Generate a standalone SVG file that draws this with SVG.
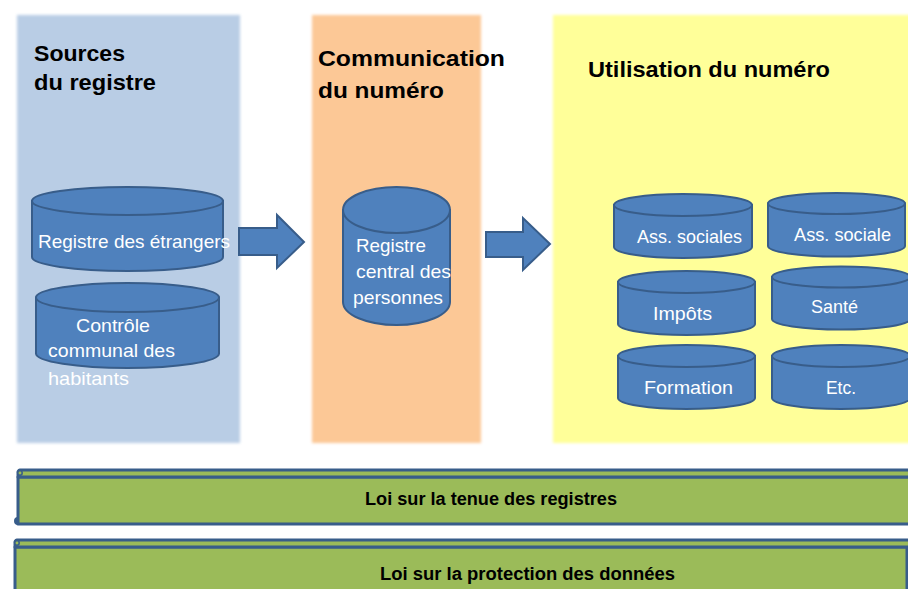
<svg xmlns="http://www.w3.org/2000/svg" width="908" height="589" viewBox="0 0 908 589">
<style>
.panel{filter:url(#soft)}
.title{font-family:"Liberation Sans",Arial,sans-serif;font-weight:bold;font-size:22.5px;fill:#000}
.cyl{fill:#4f81bd;stroke:#385d8a;stroke-width:2}
.lbl{font-family:"Liberation Sans",Arial,sans-serif;font-size:19px;fill:#fff}
.arrow{fill:#4f81bd;stroke:#385d8a;stroke-width:2;stroke-linejoin:miter}
.banner{fill:#9bbb59;stroke:#385d8a;stroke-width:3;stroke-linejoin:round}
.law{font-family:"Liberation Sans",Arial,sans-serif;font-weight:bold;font-size:18px;fill:#000}
</style>
<defs>
<filter id="soft" x="-5%" y="-5%" width="110%" height="110%"><feGaussianBlur stdDeviation="1.5"/></filter>
</defs>
<rect width="908" height="589" fill="#fff"/>

<g id="panel-sources">
<rect class="panel" x="17" y="15" width="223" height="428" fill="#b9cde5"/>
<text class="title" x="34" y="61" textLength="91" lengthAdjust="spacingAndGlyphs">Sources</text>
<text class="title" x="34" y="90" textLength="122" lengthAdjust="spacingAndGlyphs">du registre</text>
</g>
<g id="panel-communication">
<rect class="panel" x="312" y="15" width="169" height="428" fill="#fcc896"/>
<text class="title" x="318" y="66" textLength="187" lengthAdjust="spacingAndGlyphs">Communication</text>
<text class="title" x="318" y="98" textLength="126" lengthAdjust="spacingAndGlyphs">du numéro</text>
</g>
<g id="panel-utilisation">
<rect class="panel" x="553" y="15" width="362" height="428" fill="#ffff99"/>
<text class="title" x="588" y="77" textLength="242" lengthAdjust="spacingAndGlyphs">Utilisation du numéro</text>
</g>

<g id="connectors">
<path class="arrow" d="M239,228 L277,228 L277,215 L304,242 L277,268 L277,255 L239,255 Z"/>
<path class="arrow" d="M486,232 L523,232 L523,218 L550,244 L523,270 L523,257 L486,257 Z"/>
</g>

<g id="node-etrangers">
<path class="cyl" d="M32,201 L32,257 A95.5,14 0 0 0 223,257 L223,201 Z"/>
<ellipse class="cyl" cx="127.5" cy="201" rx="95.5" ry="14"/>
<text class="lbl" x="38" y="248" textLength="192" lengthAdjust="spacingAndGlyphs">Registre des étrangers</text>
</g>
<g id="node-controle">
<path class="cyl" d="M36,297.5 L36,353.5 A91.5,14.5 0 0 0 219,353.5 L219,297.5 Z"/>
<ellipse class="cyl" cx="127.5" cy="297.5" rx="91.5" ry="14.5"/>
<text class="lbl" x="76" y="332" textLength="74" lengthAdjust="spacingAndGlyphs">Contrôle</text>
<text class="lbl" x="48" y="357" textLength="127" lengthAdjust="spacingAndGlyphs">communal des</text>
<text class="lbl" x="48" y="385" textLength="81" lengthAdjust="spacingAndGlyphs">habitants</text>
</g>
<g id="node-central">
<path class="cyl" d="M343,210 L343,302 A53.5,23 0 0 0 450,302 L450,210 Z"/>
<ellipse class="cyl" cx="396.5" cy="210" rx="53.5" ry="23"/>
<text class="lbl" x="356" y="252" textLength="70" lengthAdjust="spacingAndGlyphs">Registre</text>
<text class="lbl" x="356" y="278" textLength="95" lengthAdjust="spacingAndGlyphs">central des</text>
<text class="lbl" x="353" y="304" textLength="90" lengthAdjust="spacingAndGlyphs">personnes</text>
</g>

<g id="node-ass-sociales">
<path class="cyl" d="M614,205 L614,247 A69,11 0 0 0 752,247 L752,205 Z"/>
<ellipse class="cyl" cx="683" cy="205" rx="69" ry="11"/>
<text class="lbl" x="637" y="243" textLength="105" lengthAdjust="spacingAndGlyphs">Ass. sociales</text>
</g>
<g id="node-ass-sociale">
<path class="cyl" d="M768,203.5 L768,246 A68.5,10.5 0 0 0 905,246 L905,203.5 Z"/>
<ellipse class="cyl" cx="836.5" cy="203.5" rx="68.5" ry="10.5"/>
<text class="lbl" x="794" y="241" textLength="97" lengthAdjust="spacingAndGlyphs">Ass. sociale</text>
</g>
<g id="node-impots">
<path class="cyl" d="M618,282 L618,324 A68.5,11 0 0 0 755,324 L755,282 Z"/>
<ellipse class="cyl" cx="686.5" cy="282" rx="68.5" ry="11"/>
<text class="lbl" x="653" y="320" textLength="59" lengthAdjust="spacingAndGlyphs">Impôts</text>
</g>
<g id="node-sante">
<path class="cyl" d="M772,277 L772,319 A69,10.5 0 0 0 910,319 L910,277 Z"/>
<ellipse class="cyl" cx="841" cy="277" rx="69" ry="10.5"/>
<text class="lbl" x="811" y="313" textLength="47" lengthAdjust="spacingAndGlyphs">Santé</text>
</g>
<g id="node-formation">
<path class="cyl" d="M618,356 L618,398 A68.5,11 0 0 0 755,398 L755,356 Z"/>
<ellipse class="cyl" cx="686.5" cy="356" rx="68.5" ry="11"/>
<text class="lbl" x="644" y="394" textLength="89" lengthAdjust="spacingAndGlyphs">Formation</text>
</g>
<g id="node-etc">
<path class="cyl" d="M772,356 L772,398 A69,11 0 0 0 910,398 L910,356 Z"/>
<ellipse class="cyl" cx="841" cy="356" rx="69" ry="11"/>
<text class="lbl" x="826" y="394" textLength="30" lengthAdjust="spacingAndGlyphs">Etc.</text>
</g>

<g id="node-loi-registres">
<path class="banner" d="M18,477 L915,477 L915,524 L18,524 Z"/>
<path class="banner" d="M20,470 L915,470 L915,477 L18,477 L18,473 A2.5,2.5 0 0 1 20,470 Z"/>
<circle cx="20" cy="473" r="2.2" fill="#9bbb59" stroke="#385d8a" stroke-width="1.5"/>
<path d="M18,518 A3,3 0 1 0 18,524" fill="#385d8a" stroke="#385d8a" stroke-width="2"/>
<text class="law" x="365" y="505" textLength="252" lengthAdjust="spacingAndGlyphs">Loi sur la tenue des registres</text>
</g>
<g id="node-loi-donnees">
<path class="banner" d="M15,547 L907,547 L907,600 L15,600 Z"/>
<path class="banner" d="M17,540 L915,540 L915,547 L15,547 L15,543 A2.5,2.5 0 0 1 17,540 Z"/>
<circle cx="17" cy="543" r="2.2" fill="#9bbb59" stroke="#385d8a" stroke-width="1.5"/>
<text class="law" x="380" y="580" textLength="295" lengthAdjust="spacingAndGlyphs">Loi sur la protection des données</text>
</g>
</svg>
